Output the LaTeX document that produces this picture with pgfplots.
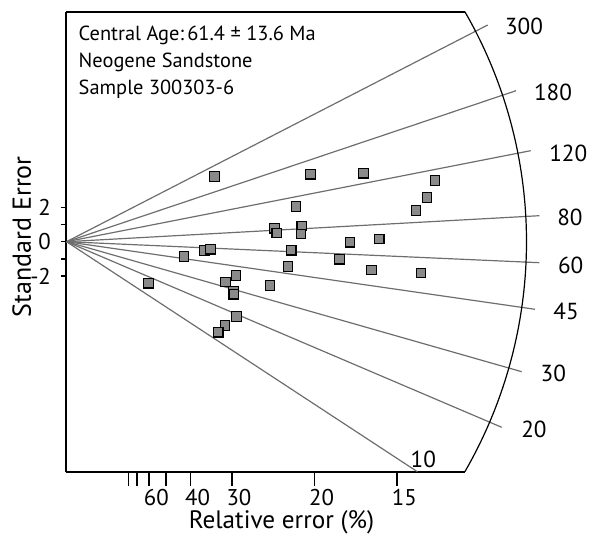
\documentclass[border=0pt]{standalone}
\usepackage{fontspec}
\setmainfont{PT Sans}
\usepackage{pgfplots}
\pgfplotsset{compat=1.18}

\definecolor{raygray}{HTML}{6E6E6E}
\definecolor{ptfill}{HTML}{8A8A8A}

\begin{document}
\begin{tikzpicture}
\useasboundingbox (-33.25pt,-146.65pt) rectangle (262.25pt,120.85pt);
\begin{axis}[
    at={(0,0)}, anchor=origin,
    x=24.8pt, y=8.55pt,
    xmin=0, xmax=8.034,
    ymin=-13.45, ymax=13.42,
    axis x line*=box, axis y line*=left,
    axis line style={line width=1pt},
    clip=false,
    xtick={1.25,1.4286,1.6667,2,2.5,3.3333,5,6.6667},
    xticklabels={,,60,,40,30,20,15},
    ytick={-2,-1,0,1,2},
    yticklabels={-2,,0,,2},
    tick align=outside,
    xtick pos=bottom, ytick pos=left,
    xtick style={black, line width=0.9pt, /pgfplots/major tick length=7pt},
    ytick style={black, line width=0.8pt, /pgfplots/major tick length=2.8pt},
    xticklabel style={xshift=3.55pt, inner sep=1.5pt, yshift=-2.6pt, font=\fontsize{11.4}{13}\selectfont},
    yticklabel style={font=\fontsize{11.4}{13}\selectfont},
    /pgf/number format/assume math mode=true,
]
% rays
\addplot[raygray, line width=0.6pt] coordinates {(0,0) (8.492,12.673)};
\addplot[raygray, line width=0.6pt] coordinates {(0,0) (9.063,8.830)};
\addplot[raygray, line width=0.6pt] coordinates {(0,0) (9.359,5.322)};
\addplot[raygray, line width=0.6pt] coordinates {(0,0) (9.532,1.520)};
\addplot[raygray, line width=0.6pt] coordinates {(0,0) (9.532,-1.228)};
\addplot[raygray, line width=0.6pt] coordinates {(0,0) (9.446,-3.953)};
\addplot[raygray, line width=0.6pt] coordinates {(0,0) (9.177,-7.602)};
\addplot[raygray, line width=0.6pt] coordinates {(0,0) (8.774,-10.854)};
\addplot[raygray, line width=0.6pt] coordinates {(0,0) (7.073,-13.45)};

% age scale arc
\draw[black, line width=0.6pt] (axis cs:0,0) ++(30:230pt) arc[start angle=30, end angle=-30, radius=230pt];

% grains
\addplot[only marks, mark=square*, mark size=2.4pt,
    mark options={fill=ptfill, draw=black, line width=0.6pt}] coordinates {
(2.980,3.801) (4.923,3.942) (5.984,4.000) (7.429,3.567) (7.268,2.596)
(7.046,1.813) (4.627,2.047) (4.190,0.784) (4.238,0.509) (4.742,0.918)
(4.728,0.450) (5.716,-0.035) (6.306,0.158) (2.786,-0.526) (2.907,-0.444)
(2.369,-0.877) (4.532,-0.503) (5.500,-1.029) (4.466,-1.462) (6.153,-1.655)
(7.147,-1.830) (1.657,-2.433) (3.417,-1.988) (3.202,-2.357) (3.363,-2.924)
(3.371,-3.076) (4.103,-2.573) (3.431,-4.386) (3.196,-4.912) (3.060,-5.298)
};

% age labels
\begin{scope}[font=\fontsize{11.6}{14}\selectfont]
\node at (axis cs:9.224,12.573) {300};
\node at (axis cs:9.808,8.713) {180};
\node at (axis cs:10.117,5.170) {120};
\node at (axis cs:10.151,1.427) {80};
\node at (axis cs:10.165,-1.363) {60};
\node at (axis cs:10.071,-4.094) {45};
\node at (axis cs:9.815,-7.696) {30};
\node at (axis cs:9.425,-10.971) {20};
\node at (axis cs:7.194,-12.725) {10};
\end{scope}

% annotation
\begin{scope}[font=\fontsize{10.2}{12}\selectfont]
\node[anchor=base west, inner sep=0pt] at (axis cs:0.238,11.754) {Central Age:\,61.4 ± 13.6 Ma};
\node[anchor=base west, inner sep=0pt] at (axis cs:0.238,10.175) {Neogene Sandstone};
\node[anchor=base west, inner sep=0pt] at (axis cs:0.238,8.637) {Sample 300303-6};
\end{scope}

% axis titles
\node[rotate=90, font=\fontsize{13}{15}\selectfont] at (axis cs:-0.903,0.292) {Standard Error};
\node[anchor=base, inner sep=0pt, font=\fontsize{12.6}{15}\selectfont] at (axis cs:4.335,-16.76) {Relative error (\%)};
\end{axis}
\end{tikzpicture}
\end{document}
